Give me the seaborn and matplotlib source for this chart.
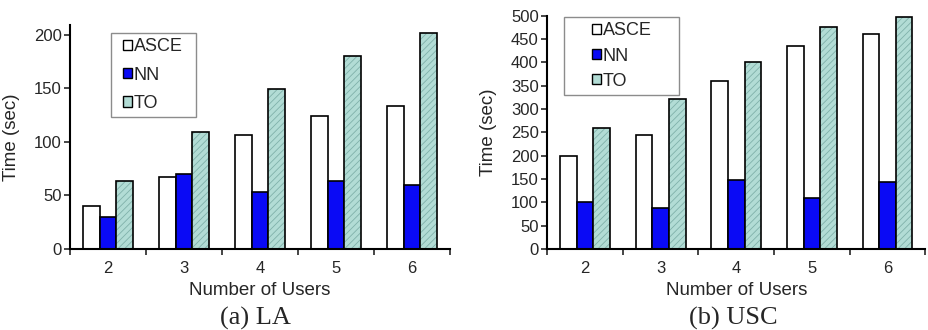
import matplotlib
matplotlib.use("Agg")
import matplotlib.pyplot as plt
from matplotlib.patches import Patch, Rectangle
from matplotlib.legend_handler import HandlerPatch
from matplotlib.ticker import FixedLocator
import seaborn as sns
import pandas as pd

# Running time per method vs. number of users
users = [2, 3, 4, 5, 6]
methods = ["ASCE", "NN", "TO"]

la_asce = [40, 67, 106, 124, 133]
la_nn = [30, 70, 53, 63, 60]
la_to = [63, 109, 149, 180, 201]

usc_asce = [200, 244, 359, 434, 461]
usc_nn = [101, 87, 148, 109, 144]
usc_to = [260, 321, 400, 476, 497]

la_ticks = [0, 50, 100, 150, 200]
usc_ticks = [0, 50, 100, 150, 200, 250, 300, 350, 400, 450, 500]

fill_colors = {"ASCE": "#FFFFFF", "NN": "#0A0AF5", "TO": "#B2DCD5"}
hatch_color = "#7FB1AA"

sns.set_style("ticks")
plt.rcParams["font.family"] = ["Liberation Sans", "DejaVu Sans"]
plt.rcParams["hatch.linewidth"] = 0.6

TICK_FS = 12
LABEL_FS = 13.5
LEGEND_FS = 13


def frame(asce, nn, to):
    rows = []
    for name, vals in zip(methods, [asce, nn, to]):
        for u, v in zip(users, vals):
            rows.append({"Users": str(u), "Method": name, "Time": v})
    return pd.DataFrame(rows)


def draw(ax, df, ymax, ticks, leg_box, handle_shift, spacing):
    sns.barplot(data=df, x="Users", y="Time", hue="Method", hue_order=methods,
                palette=fill_colors, width=0.66, gap=0, ax=ax,
                edgecolor="black", linewidth=1.2, saturation=1, legend=False)
    # hatch the TO bars, then redraw a black outline on top
    to_bars = ax.containers[2]
    for bar in to_bars:
        bar.set_hatch("/////")
        bar.set_edgecolor(hatch_color)
        bar.set_linewidth(0)
        outline = Rectangle(bar.get_xy(), bar.get_width(), bar.get_height(),
                            fill=False, edgecolor="black", linewidth=1.2,
                            zorder=bar.get_zorder() + 0.1)
        ax.add_patch(outline)

    ax.set_ylim(0, ymax)
    ax.set_xlim(-0.5, len(users) - 0.5)
    ax.set_yticks(ticks)
    ax.tick_params(axis="y", labelsize=TICK_FS, length=4, width=1.2, direction="out", pad=2)
    ax.tick_params(axis="x", which="major", labelsize=TICK_FS, length=0, pad=9)
    ax.xaxis.set_minor_locator(FixedLocator([i - 0.5 for i in range(len(users) + 1)]))
    ax.tick_params(axis="x", which="minor", length=4, width=1.2, direction="out")
    for s in ["top", "right"]:
        ax.spines[s].set_visible(False)
    for s in ["left", "bottom"]:
        ax.spines[s].set_linewidth(1.5)
        ax.spines[s].set_color("black")
    ax.set_xlabel("Number of Users", fontsize=LABEL_FS, labelpad=4)
    ax.set_ylabel("Time (sec)", fontsize=LABEL_FS, labelpad=10)

    handles = [Patch(facecolor=fill_colors[m], edgecolor="black", linewidth=1.0) for m in methods]
    leg = ax.legend(handles, methods, loc="upper left", bbox_to_anchor=leg_box,
                    mode="expand", frameon=True, fancybox=False, fontsize=LEGEND_FS,
                    handlelength=0.5 + handle_shift, handleheight=0.5,
                    handletextpad=0.1, labelspacing=spacing, borderpad=0.3,
                    borderaxespad=0,
                    handler_map={Patch: HandlerPatch(xpad=handle_shift)})
    leg.get_frame().set_edgecolor("#707070")
    leg.get_frame().set_linewidth(1.0)


fig = plt.figure(figsize=(9.29, 3.30), dpi=100)
ax1 = fig.add_axes([0.0753, 0.2455, 0.409, 0.679])
ax2 = fig.add_axes([0.589, 0.2455, 0.407, 0.707])

draw(ax1, frame(la_asce, la_nn, la_to), 209, la_ticks, (0.108, 0.0, 0.224, 0.964), 0.35, 0.62)
draw(ax2, frame(usc_asce, usc_nn, usc_to), 500, usc_ticks, (0.045, 0.0, 0.304, 0.994), 1.24, 0.45)

serif = ["Liberation Serif", "DejaVu Serif"]
fig.text(0.275, 0.0, "(a) LA", family=serif, fontsize=19, ha="center", va="bottom")
fig.text(0.789, 0.0, "(b) USC", family=serif, fontsize=19, ha="center", va="bottom")

fig.savefig("out.png", dpi=100)
